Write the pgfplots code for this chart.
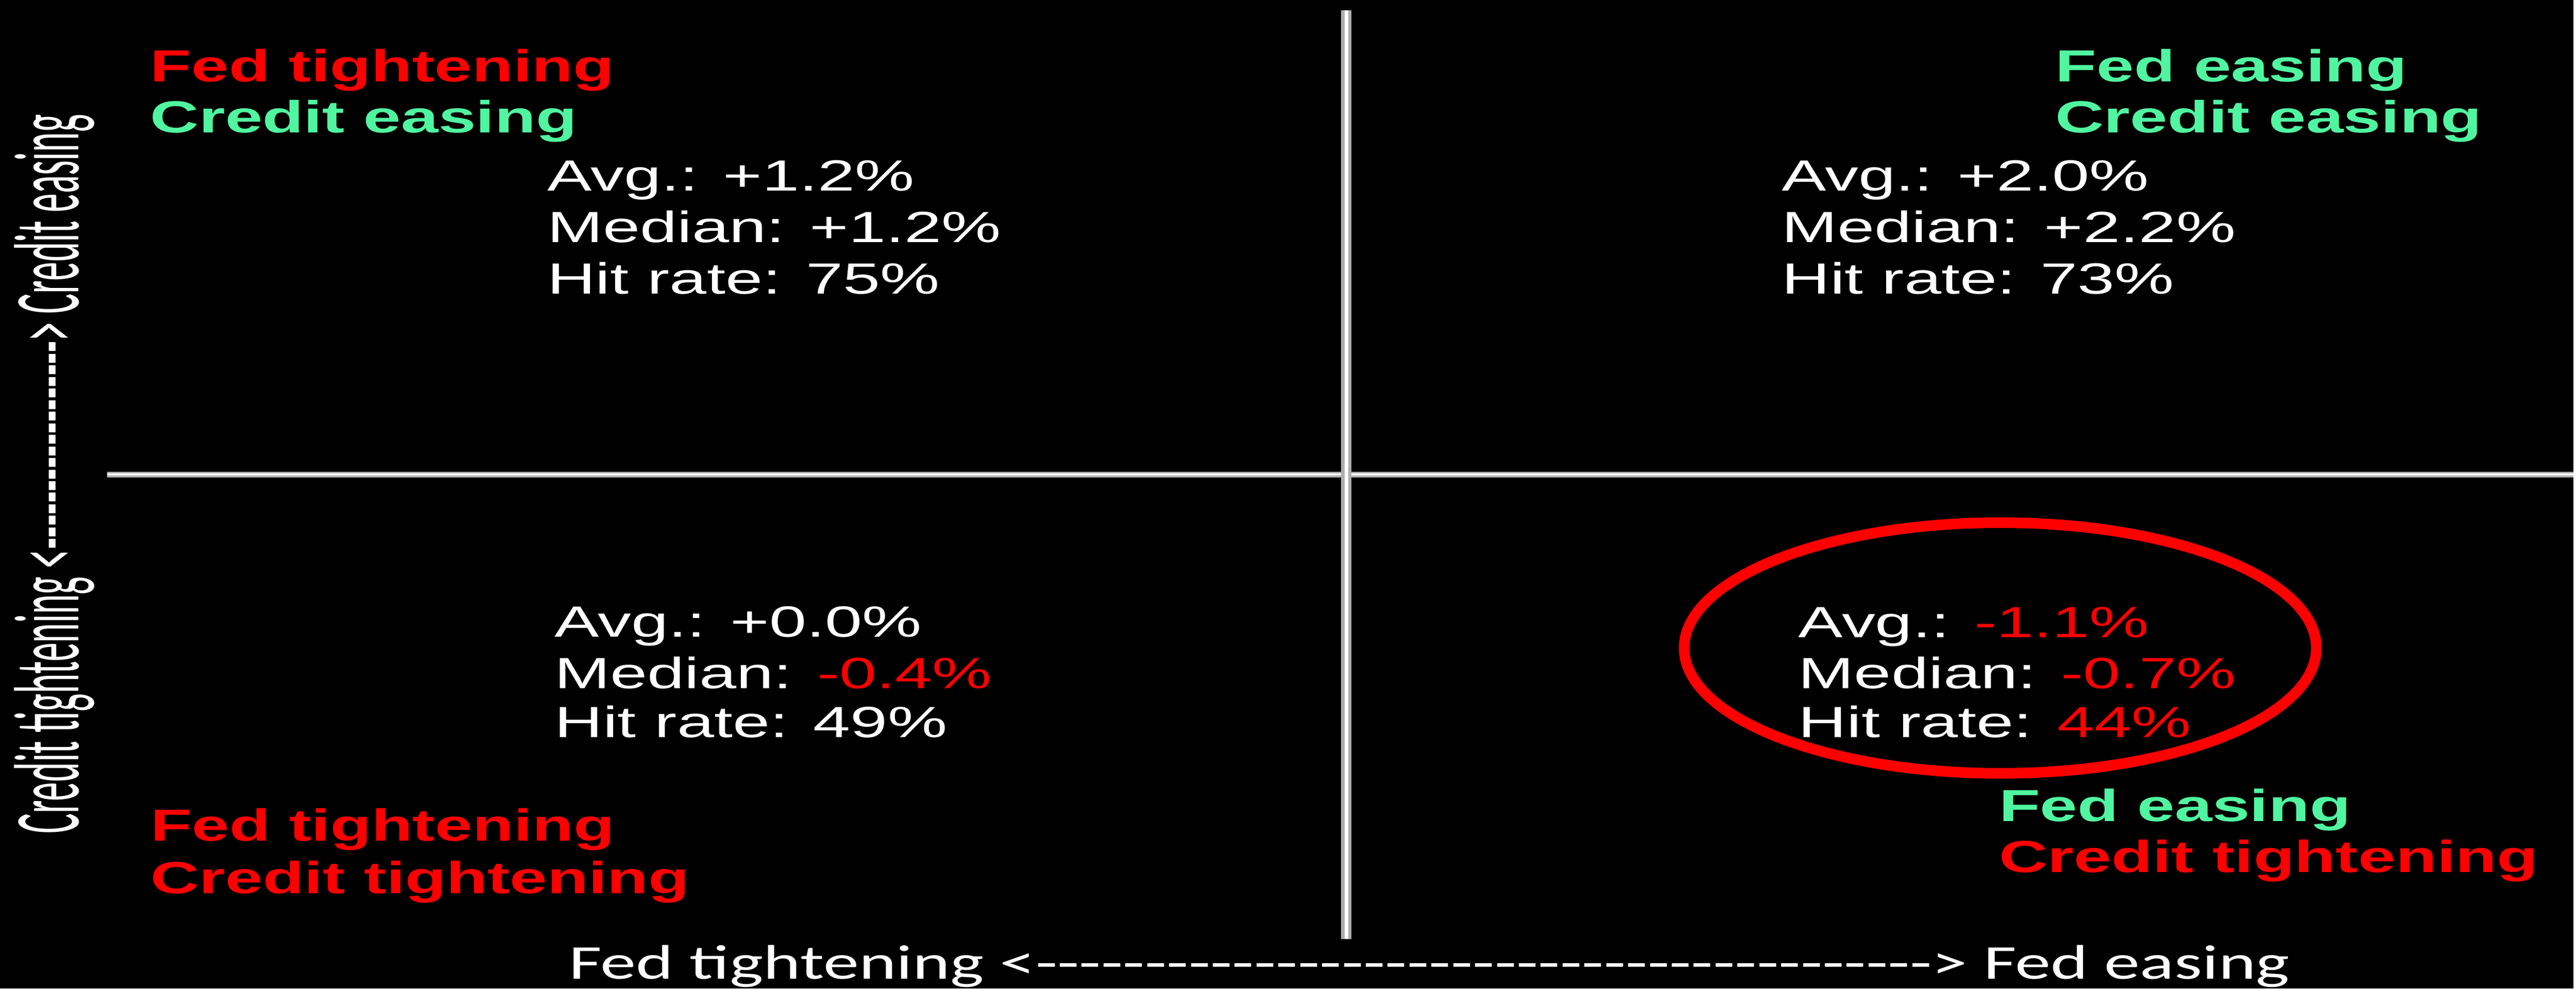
\documentclass[border=0pt]{standalone}
\usepackage{pgfplots}
\pgfplotsset{compat=1.18}
\usepackage{fontspec}
\setmainfont{Liberation Sans}
\newfontfamily\statfont[FakeStretch=1.53]{Liberation Sans}
\newfontfamily\labfont[FakeStretch=1.5]{Liberation Sans Bold}
\newfontfamily\axfont[FakeStretch=1.47,Ligatures=TeXOff]{Carlito}
\newfontfamily\yaxfont[Ligatures=TeXOff]{Carlito}

\definecolor{ease}{RGB}{80,245,160}
\definecolor{tight}{RGB}{255,0,0}
\definecolor{edge}{RGB}{175,175,175}

% one unit = one pixel of the reference (6301 x 2421), y measured downwards
\newcommand\xdashes{-----------------------------------------}% 41
\newcommand\ydashes{------------------}% 18
\newcommand\lab[1]{\labfont\fontsize{11}{13}\selectfont #1}
\newcommand\stat[1]{\statfont\fontsize{10.7}{12.5}\selectfont #1}
\tikzset{txt/.style={inner sep=0pt, outer sep=0pt, anchor=base west, text=white}}

\begin{document}
\begin{tikzpicture}
\fill[black] (0,0) rectangle (630.1pt,242.1pt);
\begin{axis}[
    at={(0,0)}, anchor=south west,
    scale only axis,
    width=630.1pt, height=242.1pt,
    xmin=0, xmax=6301,
    ymin=0, ymax=2421,
    y dir=reverse,
    hide axis,
    clip=false,
]
% quadrant lines
\addplot[edge, line width=1.4pt, line cap=butt] coordinates {(262,1162) (6301,1162)};
\addplot[white, line width=0.6pt, line cap=butt] coordinates {(262,1162) (6301,1162)};
\addplot[edge, line width=2.5pt, line cap=butt] coordinates {(3297,25) (3297,2300)};
\addplot[white, line width=0.9pt, line cap=butt] coordinates {(3297,25) (3297,2300)};

% top left
\node[txt, text=tight] at (axis cs:368,200) {\lab{Fed tightening}};
\node[txt, text=ease]  at (axis cs:368,325) {\lab{Credit easing}};
\node[txt] at (axis cs:1340,468) {\stat{Avg.: +1.2\%}};
\node[txt] at (axis cs:1340,594) {\stat{Median: +1.2\%}};
\node[txt] at (axis cs:1340,720) {\stat{Hit rate: 75\%}};

% top right
\node[txt, text=ease] at (axis cs:5033,200) {\lab{Fed easing}};
\node[txt, text=ease] at (axis cs:5033,325) {\lab{Credit easing}};
\node[txt] at (axis cs:4363,468) {\stat{Avg.: +2.0\%}};
\node[txt] at (axis cs:4363,594) {\stat{Median: +2.2\%}};
\node[txt] at (axis cs:4363,720) {\stat{Hit rate: 73\%}};

% bottom left
\node[txt] at (axis cs:1358,1560) {\stat{Avg.: +0.0\%}};
\node[txt] at (axis cs:1358,1686) {\stat{Median: \textcolor{tight}{-0.4\%}}};
\node[txt] at (axis cs:1358,1806) {\stat{Hit rate: 49\%}};
\node[txt, text=tight] at (axis cs:369,2059) {\lab{Fed tightening}};
\node[txt, text=tight] at (axis cs:369,2188) {\lab{Credit tightening}};

% bottom right
\draw[tight, line width=2.6pt] (axis cs:4898,1587) ellipse [x radius=77.4pt, y radius=30.7pt];
\node[txt] at (axis cs:4404,1561) {\stat{Avg.: \textcolor{tight}{-1.1\%}}};
\node[txt] at (axis cs:4404,1686) {\stat{Median: \textcolor{tight}{-0.7\%}}};
\node[txt] at (axis cs:4404,1806) {\stat{Hit rate: \textcolor{tight}{44\%}}};
\node[txt, text=ease]  at (axis cs:4895,2011) {\lab{Fed easing}};
\node[txt, text=tight] at (axis cs:4895,2137) {\lab{Credit tightening}};

% axis captions
\node[txt] at (axis cs:1393,2398) {\axfont\fontsize{11.9}{14}\selectfont Fed tightening <\xdashes> Fed easing};
\node[txt, rotate=90, anchor=base] at (axis cs:193,1161)
    {\scalebox{1}[2.45]{\yaxfont\fontsize{9.26}{11}\selectfont Credit tightening <\ydashes> Credit easing}};
\end{axis}
\end{tikzpicture}
\end{document}
